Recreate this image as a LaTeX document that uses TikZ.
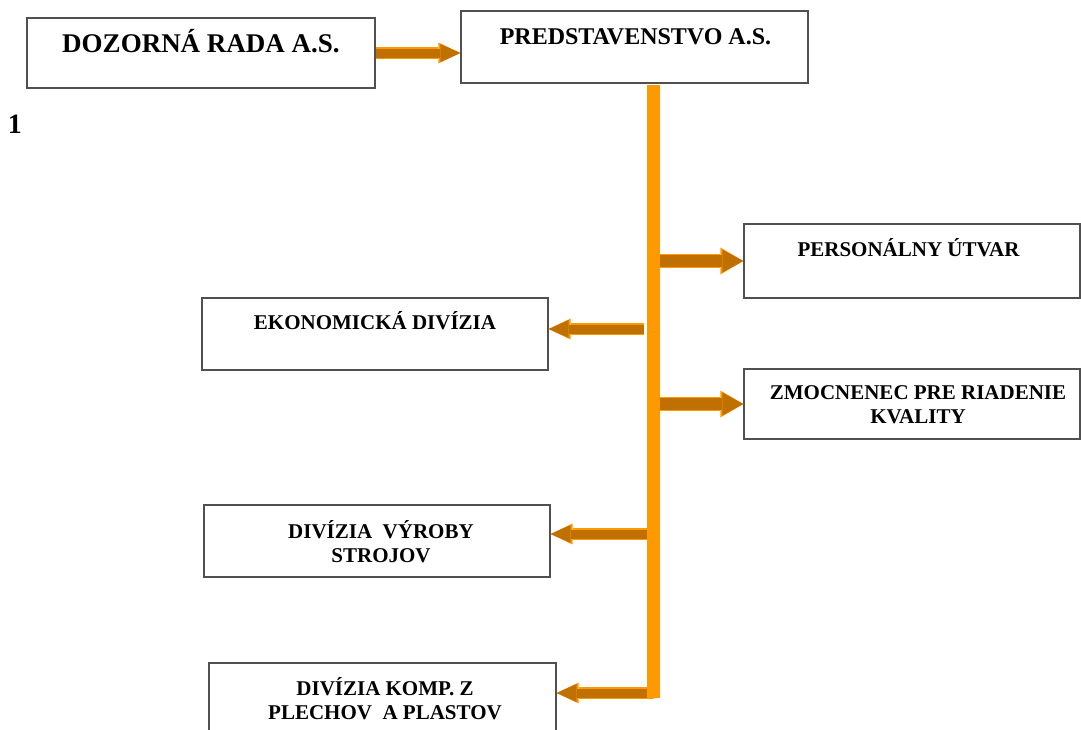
\documentclass[tikz,border=0pt]{standalone}
\usepackage{fontspec}
\setmainfont{Liberation Serif}
\usetikzlibrary{arrows.meta,positioning,calc}

\definecolor{arrowbody}{HTML}{C07000}
\definecolor{arrowedge}{HTML}{FF9900}
\definecolor{spinecol}{HTML}{FF9900}
\definecolor{boxline}{HTML}{505050}

\tikzset{
  orgbox/.style={draw=boxline, line width=1.3pt, minimum width=346pt, minimum height=72pt, inner sep=0pt},
  orgtext/.style={anchor=base, align=center, font=\bfseries\fontsize{21}{24}\selectfont},
  fatarrow/.style={draw=arrowbody, line width=12pt, -{Triangle[length=21pt,width=23pt,line width=0pt]},
    preaction={draw=arrowedge, line width=14.5pt, -{Triangle[length=23pt,width=27pt,line width=0pt]}}},
  slimarrow/.style={draw=arrowbody, line width=9pt, -{Triangle[length=20pt,width=18pt,line width=0pt]},
    preaction={draw=arrowedge, line width=11.5pt, -{Triangle[length=22pt,width=21pt,line width=0pt]}}},
  spine/.style={draw=spinecol, line width=13pt}
}

\begin{document}
\begin{tikzpicture}[x=1pt,y=-1pt]
\useasboundingbox (0,0) rectangle (1081,729);

% boxes
\node[orgbox, minimum width=348pt, minimum height=70pt] (dozor) at (201,53) {};
\node[orgbox, minimum width=347pt] (pred) at (634.5,47) {};
\node[orgbox, minimum width=336pt, minimum height=74pt] (pers) at (912,261) {};
\node[orgbox, minimum width=336pt, minimum height=70pt] (zmoc) at (912,404) {};
\node[orgbox] (ekon) at (375,334) {};
\node[orgbox] (vyr) at (377,541) {};
\node[orgbox, minimum width=347pt] (komp) at (382.5,699) {};

% texts (base = last line)
\node[orgtext, font=\bfseries\fontsize{27}{30}\selectfont] (dozort) at (201,52) {DOZORNÁ RADA A.S.};
\node[orgtext, font=\bfseries\fontsize{24}{27}\selectfont] (predt) at (635.5,44) {PREDSTAVENSTVO A.S.};
\node[orgtext] (perst) at (908.5,256) {PERSONÁLNY ÚTVAR};
\node[orgtext] (zmoct) at (918,423) {ZMOCNENEC PRE RIADENIE\\KVALITY};
\node[orgtext] (ekont) at (375,329) {EKONOMICKÁ DIVÍZIA};
\node[orgtext] (vyrt) at (381,562) {DIVÍZIA\ \ VÝROBY\\STROJOV};
\node[orgtext] (kompt) at (385,719) {DIVÍZIA KOMP. Z\\PLECHOV\ \ A PLASTOV};
\node[anchor=base, font=\bfseries\fontsize{28}{30}\selectfont] (num) at (15,133) {1};

% spine
\coordinate (bartop) at (653.5,85);
\coordinate (barbot) at (653.5,698);

% arrows
\draw[slimarrow] (dozor.east) -- (dozor.east -| pred.west);
\draw[fatarrow] (pers.west -| bartop) -- (pers.west);
\draw[fatarrow] (zmoc.west -| bartop) -- (zmoc.west);
\draw[slimarrow, shorten <=10pt] ([yshift=5pt]ekon.east -| bartop) -- ([yshift=5pt]ekon.east);
\draw[slimarrow] ([yshift=7pt]vyr.east -| bartop) -- ([yshift=7pt]vyr.east);
\draw[slimarrow] ([yshift=6pt]komp.east -| bartop) -- ([yshift=6pt]komp.east);
\draw[spine] (bartop) -- (barbot);
\end{tikzpicture}
\end{document}
